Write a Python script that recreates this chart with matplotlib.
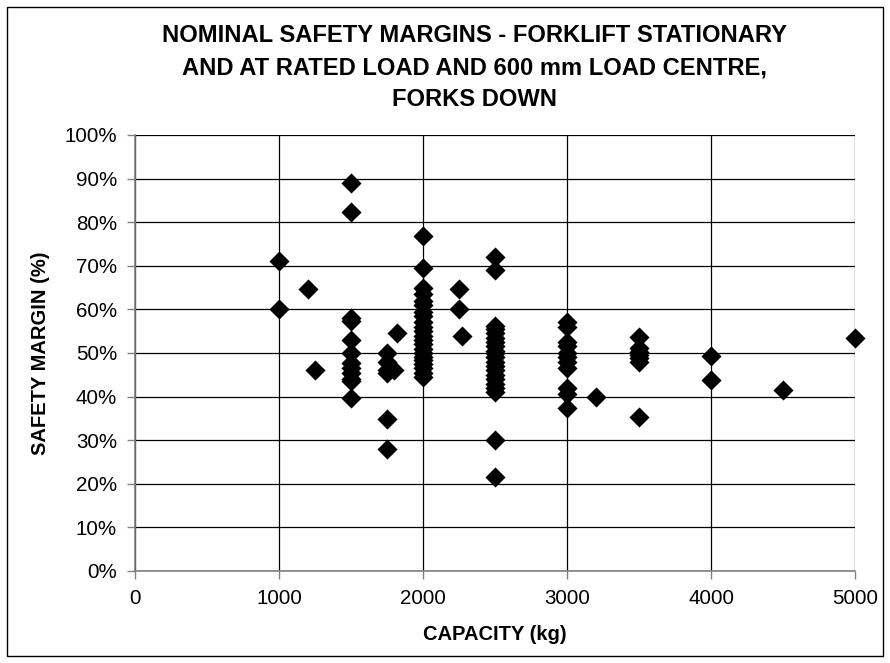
import matplotlib
matplotlib.use("Agg")
import matplotlib.pyplot as plt
from matplotlib.ticker import FuncFormatter, MultipleLocator
from matplotlib.patches import Rectangle

plt.rcParams['font.family'] = ['Liberation Sans', 'DejaVu Sans']

# capacity (kg) and safety margin (%) per forklift
cap_1000 = [1000, 1000]
sm_1000 = [71.0, 60.0]
cap_misc_low = [1200, 1250]
sm_misc_low = [64.6, 46.2]
cap_1500 = [1500] * 12
sm_1500 = [89.0, 82.3, 58.0, 57.3, 53.0, 50.0, 47.8, 46.5, 45.4, 44.0, 43.5, 39.6]
cap_1750 = [1750] * 6
sm_1750 = [50.0, 47.9, 46.2, 45.4, 34.8, 27.9]
cap_1800 = [1800, 1820]
sm_1800 = [46.2, 54.6]
cap_2000 = [2000] * 22
sm_2000 = [76.8, 69.5, 64.8, 63.5, 62.0, 61.0, 59.5, 58.5, 57.0, 56.0, 55.0,
           54.0, 53.0, 52.0, 51.0, 50.0, 49.0, 48.5, 47.5, 46.5, 45.5, 44.5]
cap_2250 = [2250, 2250, 2270]
sm_2250 = [64.6, 60.0, 53.8]
cap_2500 = [2500] * 21
sm_2500 = [72.0, 69.0, 56.3, 55.5, 54.5, 53.5, 52.5, 51.5, 50.5, 50.0, 49.0,
           48.0, 47.0, 46.0, 45.0, 44.0, 43.0, 42.0, 41.0, 30.0, 21.5]
cap_3000 = [3000] * 11
sm_3000 = [57.0, 56.0, 52.5, 51.5, 50.0, 49.0, 48.0, 46.5, 42.0, 40.5, 37.5]
cap_3200 = [3200]
sm_3200 = [40.0]
cap_3500 = [3500] * 7
sm_3500 = [53.7, 51.1, 50.3, 49.5, 48.8, 47.9, 35.3]
cap_high = [4000, 4000, 4500, 5000]
sm_high = [49.2, 43.7, 41.4, 53.5]

capacity = (cap_1000 + cap_misc_low + cap_1500 + cap_1750 + cap_1800 + cap_2000 +
            cap_2250 + cap_2500 + cap_3000 + cap_3200 + cap_3500 + cap_high)
margin = (sm_1000 + sm_misc_low + sm_1500 + sm_1750 + sm_1800 + sm_2000 +
          sm_2250 + sm_2500 + sm_3000 + sm_3200 + sm_3500 + sm_high)

title = ("NOMINAL SAFETY MARGINS - FORKLIFT STATIONARY\n"
         "AND AT RATED LOAD AND 600 mm LOAD CENTRE,\n"
         "FORKS DOWN")
x_label = "CAPACITY (kg)"
y_label = "SAFETY MARGIN (%)"

W, H = 890, 663
fig = plt.figure(figsize=(W / 100, H / 100), dpi=100)
fig.patch.set_facecolor('white')

# outer chart border
fig.patches.append(Rectangle((7 / W, 7 / H), 1 - 14 / W, 1 - 14 / H,
                             transform=fig.transFigure, fill=False,
                             edgecolor='black', linewidth=1.0))

ax = fig.add_axes([135 / W, (H - 571) / H, (855 - 135) / W, (571 - 135) / H])
ax.scatter(capacity, margin, marker='D', s=105, color='black', zorder=3,
           clip_on=False, linewidths=0)

ax.set_xlim(0, 5000)
ax.set_ylim(0, 100)
ax.xaxis.set_major_locator(MultipleLocator(1000))
ax.yaxis.set_major_locator(MultipleLocator(10))
ax.yaxis.set_major_formatter(FuncFormatter(lambda v, p: f"{int(round(v))}%"))
ax.grid(True, color='black', linewidth=0.9)
ax.set_axisbelow(True)

for side in ['top', 'right']:
    ax.spines[side].set_visible(False)
for side in ['left', 'bottom']:
    ax.spines[side].set_color('#808080')
    ax.spines[side].set_linewidth(1.2)

ax.tick_params(axis='both', direction='out', length=6, width=1.0,
               color='#808080', labelsize=14.8, pad=7)

ax.set_xlabel(x_label, fontsize=14.5, fontweight='bold', labelpad=12)
ax.set_ylabel(y_label, fontsize=14.5, fontweight='bold', labelpad=10)

fig.text(474 / W, 1 - 68 / H, title, ha='center', va='center', fontsize=17.1,
         fontweight='bold', linespacing=1.5)

fig.savefig('out.png', dpi=100, facecolor='white')
